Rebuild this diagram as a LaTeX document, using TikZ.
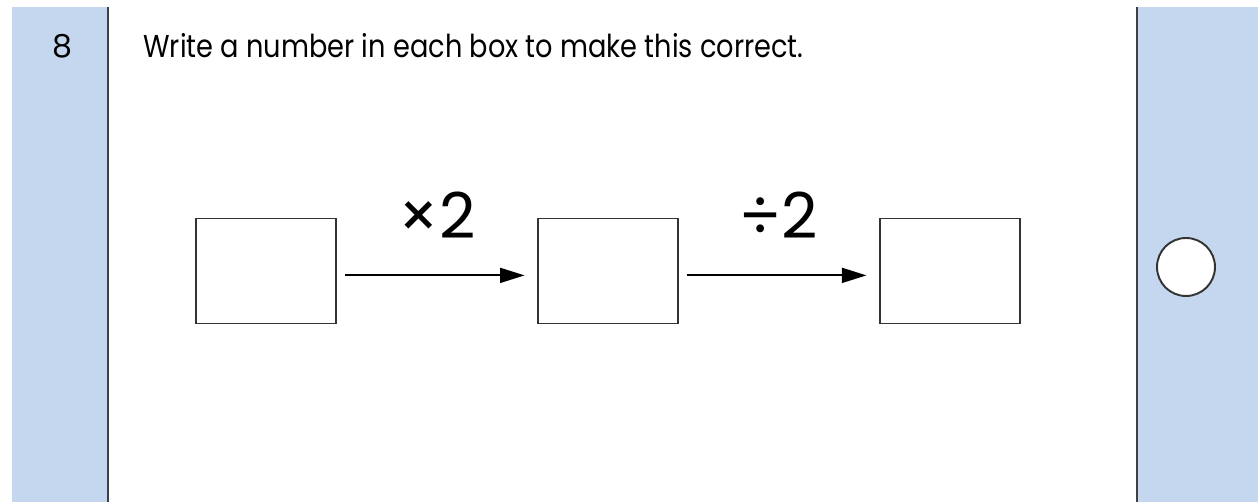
\documentclass[tikz,border=0pt]{standalone}
\usepackage{fontspec}
\setmainfont{Poppins}
\newfontfamily\qfont[FakeStretch=0.86]{Poppins}
\usetikzlibrary{arrows.meta,positioning}
\definecolor{margin}{HTML}{C5D7EE}

\begin{document}
\begin{tikzpicture}[
    x=0.02cm, y=-0.02cm,
    node distance=4.0cm,
    numbox/.style={rectangle, draw=black!80, line width=1.1pt, minimum width=2.8cm, minimum height=2.1cm, inner sep=0pt},
    oplabel/.style={font=\fontsize{36}{40}\selectfont, inner sep=0pt, anchor=base},
    >={Triangle[length=14pt, width=8.5pt]}
]
\useasboundingbox (0,0) rectangle (1258,502);
% margins
\fill[margin] (12,7) rectangle (108,502);
\fill[margin] (1137,7) rectangle (1258,502);
\draw[black!75, line width=1.6pt] (108,7) -- (108,502);
\draw[black!75, line width=1.6pt] (1137,7) -- (1137,502);
\node[anchor=base, font=\fontsize{18}{22}\selectfont, inner sep=0pt] (qnum) at (62,58) {8};
\node[anchor=base west, font=\qfont\fontsize{18}{22}\selectfont, inner sep=0pt] (qtext) at (143,58) {Write a number in each box to make this correct.};
% boxes and arrows
\node[numbox] (a) at (266,271) {};
\node[numbox, right=of a] (b) {};
\node[numbox, right=of b] (c) {};
\draw[->, line width=1.1pt, shorten <=4.5pt, shorten >=7pt] ([yshift=-2.5pt]a.east) -- ([yshift=-2.5pt]b.west)
    node[oplabel, midway, yshift=0.74cm] (times) {×2};
\draw[->, line width=1.1pt, shorten <=4.5pt, shorten >=7pt] ([yshift=-2.5pt]b.east) -- ([yshift=-2.5pt]c.west)
    node[oplabel, midway, yshift=0.74cm] (divide) {÷2};
% mark circle
\node[circle, draw=black!80, fill=white, line width=1.1pt, minimum size=1.16cm, inner sep=0pt] (mark) at (1186,267) {};
\end{tikzpicture}
\end{document}
